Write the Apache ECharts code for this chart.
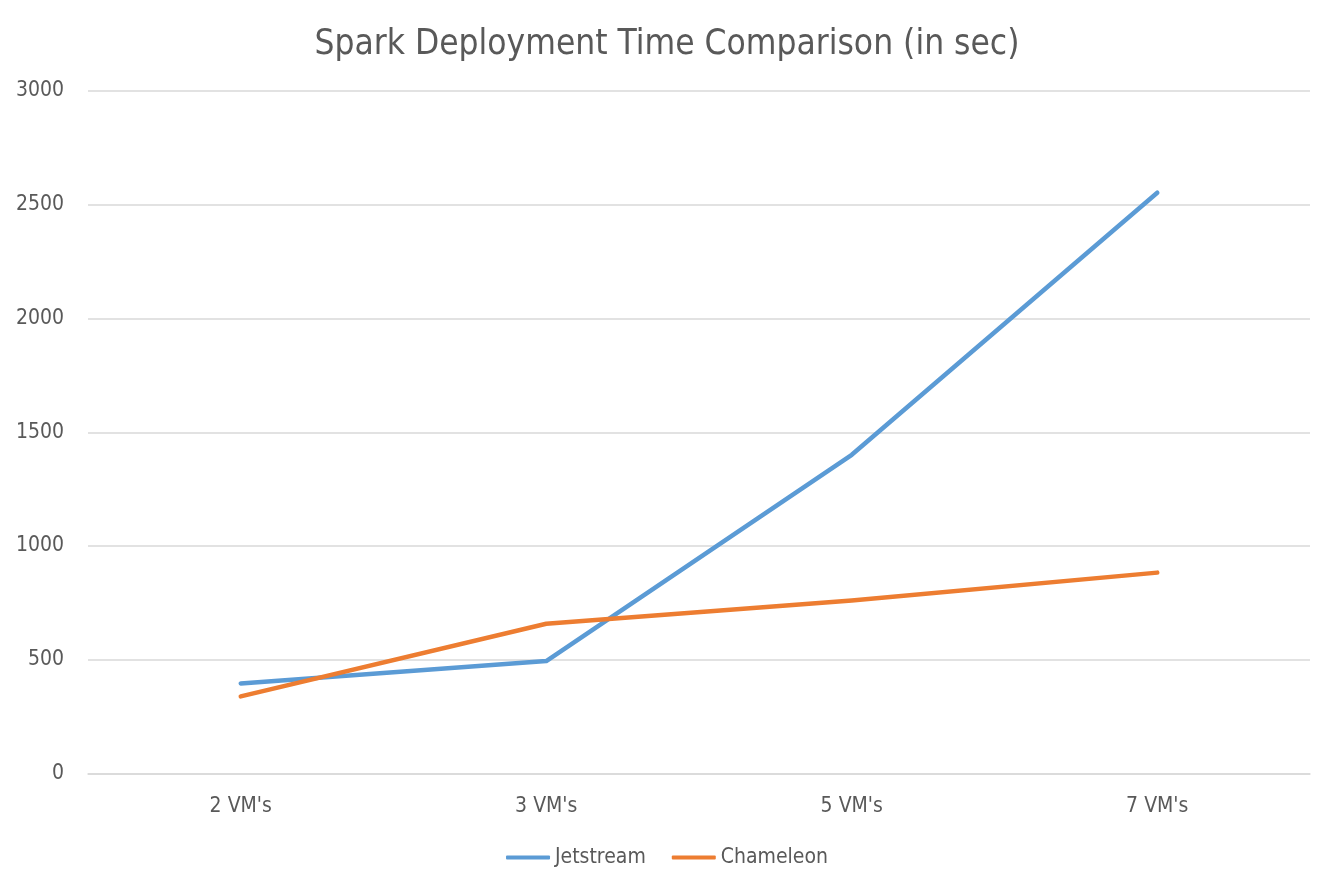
<!DOCTYPE html>
<html><head><meta charset="utf-8">
<script src="https://cdn.jsdelivr.net/npm/echarts@6/dist/echarts.min.js"></script>
<style>html,body{margin:0;padding:0;background:#fff}#c{width:1334px;height:889px}</style>
</head><body><div id="c"></div>
<script>
const categories = ["2 VM's", "3 VM's", "5 VM's", "7 VM's"];
const jetstream = [396, 494, 1401, 2553];
const chameleon = [339, 658, 760, 883];
const yTicks = [0, 500, 1000, 1500, 2000, 2500, 3000];
const FONT = '"Liberation Sans Narrow", "DejaVu Sans Condensed", "Noto Sans", sans-serif';
const chart = echarts.init(document.getElementById('c'));
chart.setOption({
  animation: false,
  textStyle: { fontFamily: FONT },
  title: {
    text: 'Spark Deployment Time Comparison (in sec)',
    left: 'center', top: 22,
    textStyle: { fontFamily: FONT, fontSize: 35, fontWeight: 'normal', color: '#595959' }
  },
  legend: {
    bottom: 16, left: 'center', itemWidth: 44, itemHeight: 4, itemGap: 26,
    icon: 'roundRect',
    textStyle: { fontFamily: FONT, fontSize: 21, color: '#595959' },
    data: ['Jetstream', 'Chameleon']
  },
  grid: { left: 88, right: 24, top: 91, bottom: 115.5 },
  xAxis: {
    type: 'category', data: categories, boundaryGap: true,
    axisLine: { show: true, lineStyle: { color: '#D9D9D9', width: 1.5 } },
    axisTick: { show: false },
    axisLabel: { fontFamily: FONT, fontSize: 21, color: '#595959', margin: 23 }
  },
  yAxis: {
    type: 'value', min: yTicks[0], max: yTicks[yTicks.length - 1], interval: 500,
    axisLine: { show: false }, axisTick: { show: false },
    splitLine: { lineStyle: { color: '#D9D9D9', width: 1.5 } },
    axisLabel: { fontFamily: FONT, fontSize: 21, color: '#595959', margin: 24, formatter: v => String(v) }
  },
  series: [
    { name: 'Jetstream', type: 'line', data: jetstream, symbol: 'none',
      lineStyle: { color: '#5B9BD5', width: 4.5, cap: 'round', join: 'round' }, itemStyle: { color: '#5B9BD5' } },
    { name: 'Chameleon', type: 'line', data: chameleon, symbol: 'none',
      lineStyle: { color: '#ED7D31', width: 4.5, cap: 'round', join: 'round' }, itemStyle: { color: '#ED7D31' } }
  ]
});
</script></body></html>
